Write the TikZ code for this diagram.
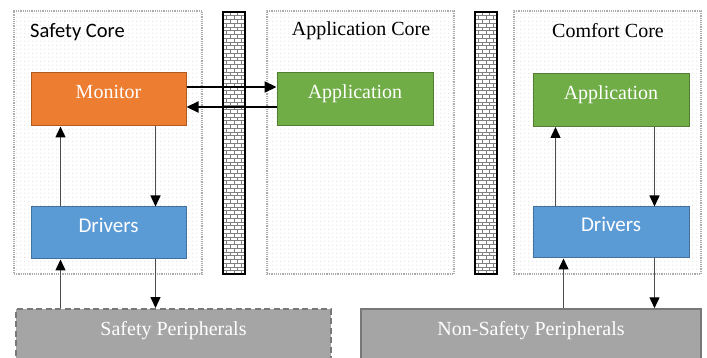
\documentclass[tikz,border=0pt]{standalone}
\usepackage{fontspec}
\setmainfont{Liberation Serif}
\newfontfamily\timesf{Liberation Serif}
\newfontfamily\calibri{Carlito}
\usetikzlibrary{arrows.meta,patterns.meta}

\definecolor{monfill}{HTML}{ED7D31}
\definecolor{mondraw}{HTML}{AE5A21}
\definecolor{appfill}{HTML}{70AD47}
\definecolor{appdraw}{HTML}{507E32}
\definecolor{drvfill}{HTML}{5B9BD5}
\definecolor{drvdraw}{HTML}{41719C}
\definecolor{perfill}{HTML}{A5A5A5}
\definecolor{perdraw}{HTML}{787878}

% light dot raster for the cores
\tikzdeclarepattern{
  name=coredots, type=uncolored,
  bounding box={(0pt,0pt) and (4pt,4pt)},
  tile size={(4pt,4pt)},
  code={\fill (1pt,1pt) circle (0.5pt);}
}

\tikzset{
  core/.style={draw=gray!65, densely dotted, line width=1.2pt, pattern=coredots, pattern color=gray!50},
  unit/.style={draw, line width=1pt, inner sep=0pt, minimum width=155pt, minimum height=53pt,
    text height=13pt, text depth=14pt, text=white, font=\timesf\fontsize{20}{24}\selectfont},
  periph/.style={fill=perfill, draw=perdraw, line width=1.5pt, inner sep=0pt,
    text height=26pt, text depth=35pt, text=white, font=\timesf\fontsize{20}{24}\selectfont},
  flow/.style={draw=black!70, line width=1.4pt, -{Triangle[length=11pt,width=10pt,color=black]}},
  link/.style={draw=black, line width=2.2pt, -{Triangle[length=12pt,width=11pt]}}
}

\begin{document}
\begin{tikzpicture}[x=1pt,y=-1pt]
  \useasboundingbox (0,0) rectangle (707,358);

  % cores
  \node[core, minimum width=188pt, minimum height=263pt] (safety) at (108,142.5) {};
  \node[core, minimum width=187pt, minimum height=263pt] (appcore) at (360.5,142.5) {};
  \node[core, minimum width=187pt, minimum height=263pt] (comfort) at (607.5,142.5) {};
  \node[anchor=west, inner sep=0pt, font=\calibri\fontsize{20.5}{24}\selectfont] (safetyT) at (30,32) {Safety Core};
  \node[inner sep=0pt, font=\timesf\fontsize{20}{24}\selectfont] (appcoreT) at (361,31) {Application Core};
  \node[inner sep=0pt, font=\timesf\fontsize{20}{24}\selectfont] (comfortT) at (608,31) {Comfort Core};

  % separation walls
  \foreach \wx in {223,475}{
    \begin{scope}
      \clip (\wx,12) rectangle +(22,262);
      \fill[white] (\wx,12) rectangle +(22,262);
      \foreach \r in {0,...,70}{
        \pgfmathsetmacro\yy{12+\r*3.75}
        \pgfmathsetmacro\off{mod(\r,2)*3.67}
        \draw[gray, line width=0.5pt] (\wx,\yy) -- +(22,0);
        \foreach \c in {0,...,3}
          \draw[gray, line width=0.5pt] (\wx+\off+\c*7.33,\yy) -- +(0,3.75);
      }
    \end{scope}
    \draw[line width=1.2pt] (\wx,12) rectangle +(22,262);
  }

  % software units
  \node[unit, fill=monfill, draw=mondraw] (mon) at (108.5,99.5) {Monitor};
  \node[unit, fill=appfill, draw=appdraw, minimum width=156pt] (appA) at (355,99.5) {Application};
  \node[unit, fill=appfill, draw=appdraw, minimum width=156pt] (appC) at (611,100) {Application};
  \node[unit, fill=drvfill, draw=drvdraw, minimum height=52pt, font=\calibri\fontsize{21}{25}\selectfont] (drvA) at (108.5,233) {Drivers};
  \node[unit, fill=drvfill, draw=drvdraw, minimum width=156pt, minimum height=51pt, font=\calibri\fontsize{21}{25}\selectfont] (drvC) at (611,232.5) {Drivers};

  % peripherals
  \node[periph, dash pattern=on 6pt off 3.5pt, line width=2pt, minimum width=315pt, anchor=base] (sp) at (173.5,335) {Safety Peripherals};
  \node[periph, minimum width=340pt, anchor=base] (nsp) at (531,335) {Non-Safety Peripherals};

  % monitor <-> application
  \draw[link] ([yshift=12.5pt]mon.east) -- ([yshift=12.5pt]appA.west);
  \draw[link] ([yshift=-7.5pt]appA.west) -- ([yshift=-7.5pt]mon.east);

  % safety core
  \coordinate (sUp) at ([xshift=30pt]drvA.south west);
  \coordinate (sDn) at ([xshift=-31pt]drvA.south east);
  \draw[flow] ([xshift=30pt]drvA.north west) -- ([xshift=30pt]mon.south west);
  \draw[flow] ([xshift=-31pt]mon.south east) -- ([xshift=-31pt]drvA.north east);
  \draw[flow] (sUp |- sp.north) -- (sUp);
  \draw[flow] (sDn) -- (sDn |- sp.north);

  % comfort core
  \coordinate (cUp) at ([xshift=31pt]drvC.south west);
  \coordinate (cDn) at ([xshift=-35pt]drvC.south east);
  \draw[flow] ([xshift=23pt]drvC.north west) -- ([xshift=23pt]appC.south west);
  \draw[flow] ([xshift=-35pt]appC.south east) -- ([xshift=-35pt]drvC.north east);
  \draw[flow] (cUp |- nsp.north) -- (cUp);
  \draw[flow] (cDn) -- (cDn |- nsp.north);
\end{tikzpicture}
\end{document}
